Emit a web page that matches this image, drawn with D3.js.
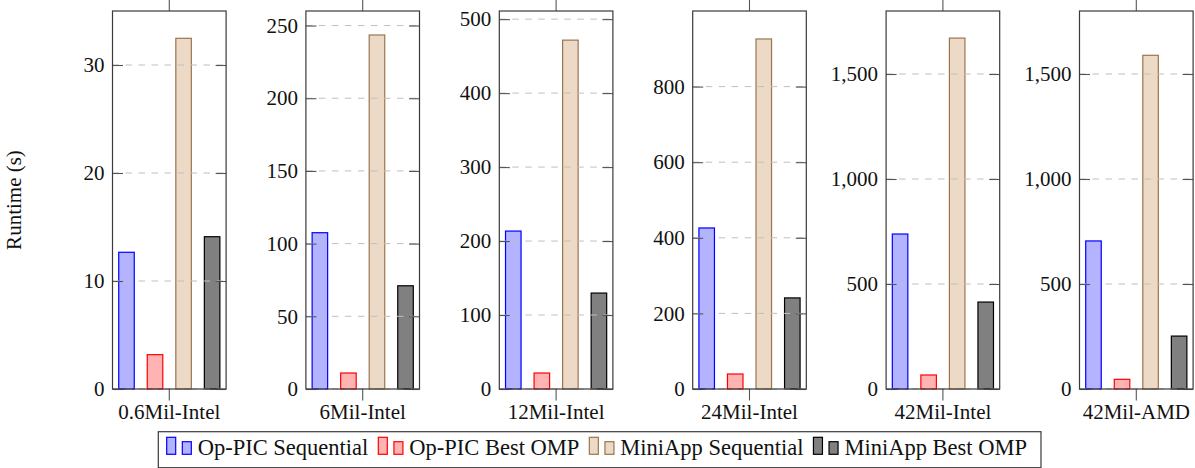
<!DOCTYPE html>
<html>
<head>
<meta charset="utf-8">
<script src="https://cdn.jsdelivr.net/npm/d3@7"></script>
<style>
  body { margin: 0; background: #fff; }
  svg { display: block; }
</style>
</head>
<body>
<div id="chart"></div>
<script>
// data
const categories = ["0.6Mil-Intel", "6Mil-Intel", "12Mil-Intel", "24Mil-Intel", "42Mil-Intel", "42Mil-AMD"];
const seriesNames = ["Op-PIC Sequential", "Op-PIC Best OMP", "MiniApp Sequential", "MiniApp Best OMP"];
const opPicSequential = [12.66, 107.5, 213.5, 426, 738, 705];
const opPicBestOmp = [3.18, 11, 21.6, 39.7, 66.7, 46];
const miniAppSequential = [32.47, 243.5, 471.6, 926, 1671, 1589];
const miniAppBestOmp = [14.1, 71, 129.7, 241, 414, 252];
const yMax = [35, 260, 511, 1000, 1800, 1800];
const yTicks = [
  [0, 10, 20, 30],
  [0, 50, 100, 150, 200, 250],
  [0, 100, 200, 300, 400, 500],
  [0, 200, 400, 600, 800],
  [0, 500, 1000, 1500],
  [0, 500, 1000, 1500]
];

const seriesValues = [opPicSequential, opPicBestOmp, miniAppSequential, miniAppBestOmp];
const fills = ["#b3b3ff", "#ffb3b3", "#ecd9c6", "#808080"];
const strokes = ["#0000ff", "#ff0000", "#9b7550", "#000000"];

////////////////////////////////////////////////////////////////////
////////////////////////////  Init  ///////////////////////////////
const width = 1195, height = 468;
const margin = { top: 11, bottom: 79, left: 112.5, right: 1.9 };
const fontSize = 21;
const serif = '"Liberation Serif"';

const svg = d3.select("#chart").append("svg")
  .attr("width", width)
  .attr("height", height);

// panels
const panelX = d3.scaleBand()
  .domain(categories)
  .range([margin.left, width - margin.right])
  .paddingInner(0.4126)
  .paddingOuter(0);

const yBottom = height - margin.bottom;

categories.forEach((cat, i) => {
  const x0 = panelX(cat);
  const w = panelX.bandwidth();
  const g = svg.append("g").attr("class", "panel");

  const y = d3.scaleLinear().domain([0, yMax[i]]).range([yBottom, margin.top]);
  const xSeries = d3.scaleBand()
    .domain(seriesNames)
    .range([x0, x0 + w])
    .paddingInner(0.456)
    .paddingOuter(0.218);
  const xCat = d3.scaleBand().domain([cat]).range([x0, x0 + w]);

  // bars
  g.selectAll("rect.bar")
    .data(seriesNames.map((s, k) => ({ s, k, v: seriesValues[k][i] })))
    .enter()
    .append("rect")
    .attr("class", "bar")
    .attr("x", (d) => xSeries(d.s))
    .attr("y", (d) => y(d.v))
    .attr("width", xSeries.bandwidth())
    .attr("height", (d) => yBottom - y(d.v))
    .attr("fill", (d) => fills[d.k])
    .attr("stroke", (d) => strokes[d.k])
    .attr("stroke-width", 1.2);

  // grid
  g.selectAll("line.grid")
    .data(yTicks[i])
    .enter()
    .append("line")
    .attr("class", "grid")
    .attr("x1", x0)
    .attr("x2", x0 + w)
    .attr("y1", (d) => y(d))
    .attr("y2", (d) => y(d))
    .attr("stroke", "#bfbfbf")
    .attr("stroke-width", 1)
    .attr("stroke-dasharray", "6.5,6.5");

  // y axis left (ticks inside)
  const yl = g.append("g")
    .attr("transform", `translate(${x0},0)`)
    .call(d3.axisLeft(y).tickValues(yTicks[i]).tickSize(-10.5).tickPadding(8).tickFormat(d3.format(",")));
  // y axis right
  const yr = g.append("g")
    .attr("transform", `translate(${x0 + w},0)`)
    .call(d3.axisRight(y).tickValues(yTicks[i]).tickSize(-10.5).tickFormat(""));

  // x ticks bottom + top
  const xb = g.append("g")
    .attr("transform", `translate(0,${yBottom})`)
    .call(d3.axisBottom(xCat).tickSize(11.5).tickPadding(4));
  const xt = g.append("g")
    .attr("transform", `translate(0,${margin.top})`)
    .call(d3.axisTop(xCat).tickSize(11.5).tickFormat(""));

  [yl, yr, xb, xt].forEach((a) => {
    a.attr("font-family", null).attr("font-size", null);
    a.select(".domain").remove();
    a.selectAll(".tick line").attr("stroke", "#555").attr("stroke-width", 1.1);
    a.selectAll("text")
      .style("font-family", serif)
      .style("font-size", fontSize + "px")
      .attr("fill", "#111");
  });

  // frame
  g.append("rect")
    .attr("x", x0)
    .attr("y", margin.top)
    .attr("width", w)
    .attr("height", yBottom - margin.top)
    .attr("fill", "none")
    .attr("stroke", "#3a3a3a")
    .attr("stroke-width", 1.2);
});

// y label
svg.append("text")
  .attr("transform", `translate(21,${(margin.top + yBottom) / 2}) rotate(-90)`)
  .attr("text-anchor", "middle")
  .attr("fill", "#111")
  .style("font-family", serif)
  .style("font-size", fontSize + "px")
  .text("Runtime (s)");

////////////////////////////////////////////////////////////////////
////////////////////////////  Legend  /////////////////////////////
const legend = svg.append("g").attr("class", "legend");
const legendBox = legend.append("rect")
  .attr("x", 158.3)
  .attr("y", 431.7)
  .attr("height", 36)
  .attr("fill", "#fff")
  .attr("stroke", "#3a3a3a")
  .attr("stroke-width", 1.2);

let lx = 166.7;
const iconBottom = 454.3;
seriesNames.forEach((name, k) => {
  legend.append("rect")
    .attr("x", lx)
    .attr("y", iconBottom - 17)
    .attr("width", 9)
    .attr("height", 17)
    .attr("fill", fills[k])
    .attr("stroke", strokes[k])
    .attr("stroke-width", 1.2);
  legend.append("rect")
    .attr("x", lx + 15.6)
    .attr("y", iconBottom - 12.6)
    .attr("width", 9)
    .attr("height", 12.6)
    .attr("fill", fills[k])
    .attr("stroke", strokes[k])
    .attr("stroke-width", 1.2);
  const t = legend.append("text")
    .attr("x", lx + 31)
    .attr("y", 455)
    .attr("fill", "#111")
    .style("font-family", serif)
    .style("font-size", "22.5px")
    .text(name);
  lx = lx + 31 + t.node().getComputedTextLength() + 10;
});
legendBox.attr("width", lx - 158.3 + 4);
</script>
</body>
</html>
